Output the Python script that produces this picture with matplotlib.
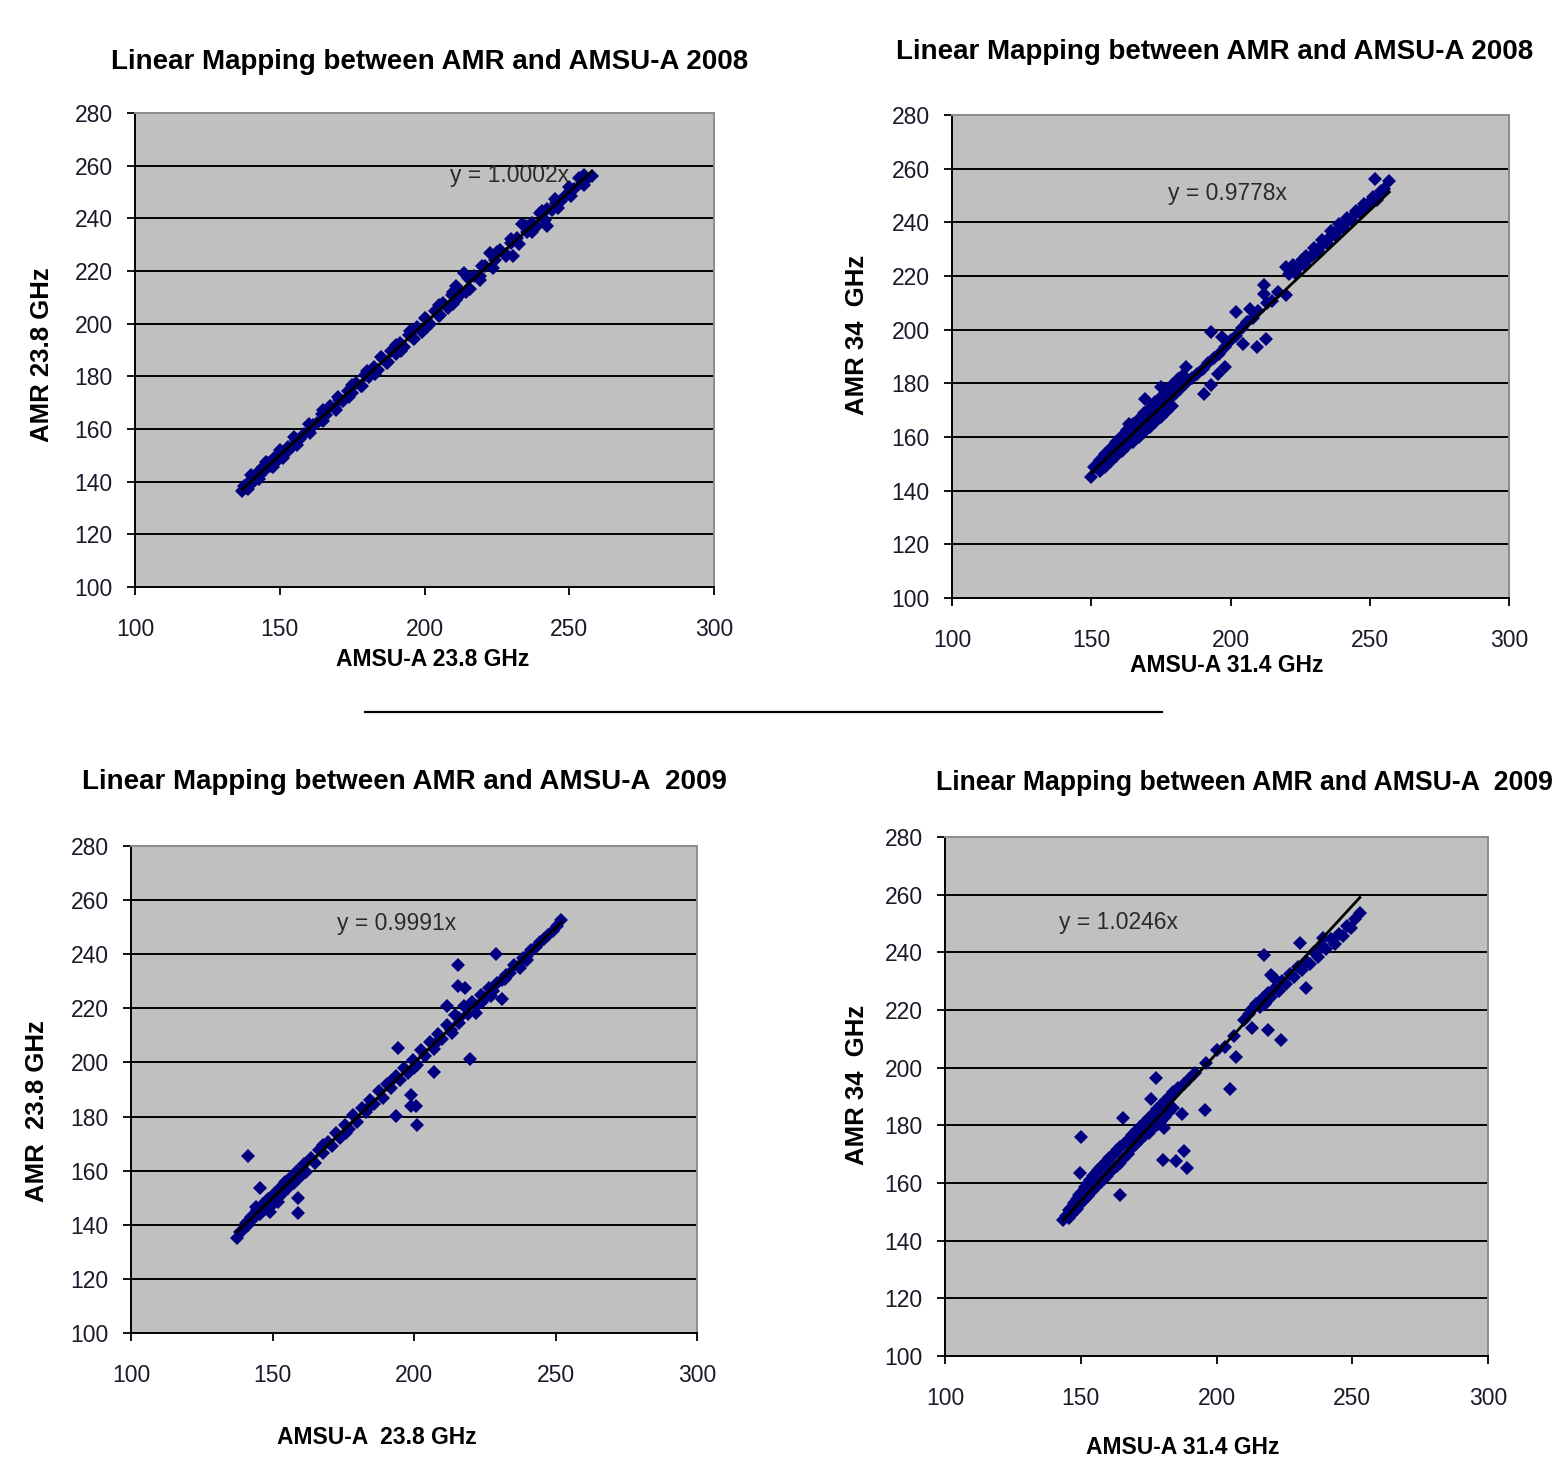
import matplotlib
matplotlib.use('Agg')
import matplotlib.pyplot as plt
from matplotlib import font_manager as fm
from matplotlib.lines import Line2D


def pick(fams):
    for f in fams:
        try:
            fm.findfont(fm.FontProperties(family=f), fallback_to_default=False)
            return f
        except Exception:
            pass
    return 'DejaVu Sans'


FONT = pick(['Liberation Sans Narrow', 'Liberation Sans', 'Arial'])
plt.rcParams['font.family'] = [FONT, 'DejaVu Sans']

# ---------------- data ----------------
x_ticks = [100, 150, 200, 250, 300]
y_ticks = [100, 120, 140, 160, 180, 200, 220, 240, 260, 280]

titles = ["Linear Mapping between AMR and AMSU-A 2008",
          "Linear Mapping between AMR and AMSU-A 2008",
          "Linear Mapping between AMR and AMSU-A  2009",
          "Linear Mapping between AMR and AMSU-A  2009"]
x_labels = ["AMSU-A 23.8 GHz", "AMSU-A 31.4 GHz", "AMSU-A  23.8 GHz", "AMSU-A 31.4 GHz"]
y_labels = ["AMR 23.8 GHz", "AMR 34  GHz", "AMR  23.8 GHz", "AMR 34  GHz"]
slopes = [1.0002, 0.9778, 0.9991, 1.0246]
equations = ["y = 1.0002x", "y = 0.9778x", "y = 0.9991x", "y = 1.0246x"]

p1_points = [(137.0,136.5),(137.5,138.3),(138.4,137.6),(139.3,139.8),(140.0,139.2),(140.8,141.6),
             (141.6,140.6),(142.5,143.5),(143.3,142.4),(144.2,145.6),(145.0,144.3),(146.0,147.2),
             (147.0,146.0),(148.0,149.1),(149.2,148.0),(150.4,151.0),(151.5,150.3),(152.8,153.2),
             (154.0,152.6),(155.5,155.8),(157.0,156.2),(158.5,158.0),(160.0,159.4),(161.5,161.6),
             (163.0,162.4),(164.5,165.6),(166.0,165.2),(167.5,168.6),(169.0,167.8),(170.5,171.2),
             (172.0,170.5),(173.5,174.6),(175.0,173.7),(176.5,177.6),(178.0,176.4),(179.5,180.5),
             (181.0,179.6),(182.5,183.4),(184.0,182.4),(185.5,186.4),(187.0,185.0),(188.5,189.6),
             (190.0,188.3),(191.5,192.6),(193.0,191.3),(194.5,195.8),(196.0,194.5),(197.5,198.8),
             (199.0,197.0),(200.5,201.6),(202.0,199.8),(203.5,204.8),(205.0,203.0),(206.5,208.0),
             (208.0,206.0),(209.5,211.0),(211.0,209.0),(211.0,214.2),(213.6,219.3),(213.0,211.5),
             (215.6,213.0),(217.0,218.2),(219.0,218.0),(221.0,221.8),(222.7,227.0),(224.5,224.0),
             (226.0,227.8),(228.0,226.5),(230.5,225.6),(230.0,230.8),(232.0,232.6),(233.8,237.7),
             (235.5,234.8),(237.0,238.2),(239.0,237.0),(240.5,242.8),(242.2,243.5),(242.2,237.1),
             (244.0,243.0),(245.5,245.8),(247.0,246.4),(248.5,248.6),(250.0,249.2),(251.5,251.0),
             (253.2,255.5),(254.5,253.5),(256.0,255.0),(257.8,256.2),
             (139.0,137.2),(143.0,141.2),(147.5,145.6),(151.0,149.0),(156.0,154.0),(160.5,158.4),
             (165.0,163.0),(169.5,167.4),(174.0,172.0),(178.5,176.4),(183.0,181.0),(187.5,185.4),
             (192.0,189.8),(196.5,194.2),(201.0,198.8),(205.5,203.2),(210.0,207.6),(214.5,212.2),
             (219.0,216.4),(223.5,221.2),(228.0,225.6),(232.5,230.2),(237.0,234.8),(241.5,239.4),
             (246.0,243.8),(250.5,248.4),(255.0,252.8),
             (140.2,142.4),(145.2,147.4),(150.0,152.2),(155.0,157.0),(160.0,161.8),(165.0,167.2),
             (170.0,172.0),(175.0,176.8),(180.0,182.2),(185.0,187.2),(190.0,192.0),(195.0,197.2),
             (200.0,202.2),(205.0,207.0),(210.0,212.2),(215.0,217.4),(220.0,222.0),(225.0,227.2),
             (230.0,232.2),(235.0,237.2),(240.0,242.0),(245.0,247.2),(250.0,252.0),(255.0,256.4)]

p2_points = [(151,149),(153,151.5),(155,153.5),(157,155.8),(159,158),(161,160.5),(163,162.5),
             (165,164.8),(167,166.8),(169,168.8),(171,170.8),(173,173.2),(175,175),(177,177.4),
             (179,179.2),(181,181.5),(183,183),
             (150,145),(152,148.6),(154,150.6),(156,152.5),(158,154.5),(160,156.5),(162,158.5),
             (164,160.4),(166,162.2),(168,164.3),(170,166.2),(172,168.2),(174,170.2),(176,172),
             (178,174.2),(180,176),(182,178),(184,180),(186,182),
             (153,147.4),(155,149),(157,151),(159,152.8),(161,154.6),(163,156.5),(165,158.2),
             (167,160),(169,162),(171,163.8),(173,165.6),(175,167.5),(177,169.5),(179,171.5),
             (169.2,174.3),(175,178.6),(163.5,165),(184,186.1),(188,183.5),(190.4,176.1),(190,185.5),
             (192,187.5),(193,179.3),(193,199.1),(194,189.5),(195.5,183.6),(196,191),(197,197.3),
             (198,186.1),(198,193.5),(200,196),(202,206.6),(202,197.5),(204.5,194.8),(204,200.5),
             (206,203),(207,207.8),(208,204.5),(209.6,193.5),(210,207),(212.2,216.5),(212.2,213.4),
             (212.8,196.6),(213,210),(215,210.5),(217,214),(219.9,223.4),(219.9,212.8),
             (221,220.8),(222.5,224),(224,222.5),(225.5,226),(227,227.5),(228.5,227),(230,230.6),
             (231.5,229.5),(233,233.4),(234.5,232.2),(236,236.6),(237.5,235.4),(239,239.2),
             (240.5,238),(242,241.6),(243.5,240.6),(245,244.2),(246.5,243.6),(248,247),
             (249.5,246),(251,249.4),(252.5,248.5),(251.9,256.3),(254,251.6),(255,252.6),(257,255.4),
             (223,221.2),(226.5,224.6),(229.5,228.0),(232.5,231.0),(235.5,234.0),(238.5,237.0),
             (241.5,239.8),(244.5,242.6),(247.5,245.4),(250.5,247.8)]

p3_points = [(137.5,135),(138.5,137.5),(139.5,138),(140.5,140.5),(141.5,140),(142.5,143),(143.5,142.5),
             (144.5,145.3),(145.5,144),(146.5,147.5),(147.5,146),(148.5,149.5),(149.5,147),(150.5,151.5),
             (151.5,149.5),(152.5,153.5),(153.5,151.5),(154.5,155.8),(155.5,153.5),(156.5,157.5),
             (157.5,155.5),(158.5,160),(159.5,157.5),(161,162.5),(162,159.5),(163.5,164.5),(165,163),
             (166.5,167.5),(168,166.5),(169.5,170.5),(171,169),(172.5,174),(174,172),(175.5,177),
             (177,175.5),(178.5,180.5),(180,178),(181.5,183),(183,181.5),(184.5,186),(186,184.5),
             (187.5,189.5),(189,187),(190.5,192),(192,190.5),(193.5,195),(195,193.5),(196.5,198),
             (198,196),(199.5,201),(201,199),(202.5,204.5),(204,202.5),(205.5,207.5),(207,205),
             (208.5,210.5),(210,208.5),(211.5,214),(213,212),(214.5,217.5),(216,214.5),(217.5,221),
             (219,218),(220.5,222.5),(222,221),(223.5,225),(225,224),(226.5,227.5),(228,226.5),
             (229.5,229.5),(231,230.5),(232.5,232.5),(234,233),(235.5,236),(237,235.5),(238.5,238.5),
             (240,239.5),(241.5,241.5),(243,242.5),(244.5,244.5),(246,245.5),(247.5,247.2),(249,248.5),
             (250.5,250.5),(252,252.5),
             (141.3,165.6),(145.5,153.6),(159,149.9),(159,144.3),(149.1,144.7),(215.6,235.9),
             (228.8,240),(215.6,228.3),(218.1,227.7),(194.3,205.4),(219.7,201.4),(207.2,196.4),
             (198.8,187.8),(200.8,183.8),(193.7,180.1),(201,177),(198.8,183.8),(222,218.4),
             (231,223.3),(227.1,224.6),(213.6,211),(211.7,220.9),(240,238),(237.4,235),
             (144,146.5),(152,148.5),(160,158),(168,169.5),(176,174),(184,183.5),(192,193),
             (200,198),(208,207.5),(216,216.5),(224,222.5),(232,231)]

p4_points = [(143.6,147),(144.5,148.5),(145.5,150.5),(145.5,148),(146.5,151.5),(146.5,149),(147.5,153),
             (147.5,150),(148.5,154.5),(148.5,151),(149.5,156),(149.5,152.2),(150.5,157),(150.5,153.5),
             (151.5,158.5),(151.5,154.5),(152.5,160),(152.5,155.5),(153.5,161),(153.5,156.5),
             (154.5,162.5),(154.5,157.5),(155.5,163.5),(155.5,158.5),(156.5,164.5),(156.5,159.5),
             (157.5,165.5),(157.5,160.5),(158.5,166.5),(158.5,161.5),(159.5,167.5),(159.5,162.5),
             (160.5,168.5),(160.5,163.5),(161.5,169.5),(161.5,164.5),(162.5,170.5),(162.5,165.5),
             (163.5,171.5),(163.5,166),(164.5,172.5),(164.5,167),(166,173.5),(166,168.5),(167.5,175),
             (167.5,170),(169,176.5),(169,172),(170.5,178),(170.5,173.5),(172,179.5),(172,175),
             (173.5,181),(173.5,176.5),(175,182.5),(175,177.5),(176.5,184),(176.5,179),(178,185.5),
             (178,180),(179.5,187),(179.5,181.5),(181,188.5),(181,183),(182.5,190),(182.5,184.5),
             (184,191.5),(184,186),(186,193),(188,194.5),(190,196),
             (192,198),(196,201.5),(200.1,206),(203,207),(206.6,211),(210,216.5),(212,218.5),
             (213,220.5),(214.5,222),(216,221),(217,224),(218,222),(219,226),(220,224.5),(221.5,227.5),
             (223,226.5),(224,230),(225.5,229),(227,232.5),(228.5,231.5),(230,235),(231.5,234),
             (233,237),(234.5,236),(236,240),(237.5,238.5),(239,242),(240.5,241),(242,244.5),
             (243.5,243),(245,246.5),(246.5,245.5),(248,249),(249.5,248.5),(251,251.5),(252.8,253.8),
             (150,175.9),(149.7,163.6),(164.4,155.8),(217.5,239.2),(230.9,243.3),(220,232.2),
             (221.3,231),(223.9,209.5),(218.8,213),(213,213.6),(207.2,203.6),(205,192.6),
             (195.6,185.2),(187.3,183.8),(177.6,196.3),(165.7,182.6),(180.2,168),(184.9,167.5),
             (188.1,171.2),(189,165.1),(232.9,227.6),(239.3,245.1),(180.8,179.1),(175.7,189.1)]

all_points = [p1_points, p2_points, p3_points, p4_points]

# ---------------- layout (pixels) ----------------
W, H = 1557, 1458
fig = plt.figure(figsize=(W / 100, H / 100), dpi=100)


def frac_rect(l, t, r, b):
    return [l / W, 1 - b / H, (r - l) / W, (b - t) / H]


axes_px = [(135, 113, 714, 587), (952, 115, 1509, 598), (131, 846, 697, 1333), (945, 837, 1488, 1356)]
title_pos = [(430, 62, 'center', 20), (1215, 52, 'center', 20), (404, 782, 'center', 20),
             (936, 783, 'left', 19.2)]
xlabel_pos = [(433, 660), (1227, 665), (377, 1437), (1183, 1447)]
ylabel_pos = [(42, 355), (857, 335), (37, 1111), (857, 1085)]
eq_pos = [(208.8, 256.4), (177.6, 250.6), (172.8, 251.5), (142.0, 250.5)]

NAVY = '#000080'

for i in range(4):
    ax = fig.add_axes(frac_rect(*axes_px[i]))
    ax.set_facecolor('#c0c0c0')
    ax.set_xlim(100, 300)
    ax.set_ylim(100, 280)
    ax.set_xticks(x_ticks)
    ax.set_yticks(y_ticks)
    for v in y_ticks[1:-1]:
        ax.axhline(v, color='black', lw=1.4, zorder=1)
    for s in ['left', 'bottom']:
        ax.spines[s].set_color('black')
        ax.spines[s].set_linewidth(1.4)
    for s in ['top', 'right']:
        ax.spines[s].set_color('#8c8c8c')
        ax.spines[s].set_linewidth(1.4)
    ax.tick_params(axis='both', direction='out', length=6, width=1.3, color='black',
                   labelsize=16.5, labelcolor='#1a1a2a')
    ax.tick_params(axis='x', pad=16)
    ax.tick_params(axis='y', pad=10)

    pts = all_points[i]
    xs = [p[0] for p in pts]
    ys = [p[1] for p in pts]
    ax.plot(xs, ys, 'D', color=NAVY, ms=7.5, mew=0, zorder=3, clip_on=False)
    x0, x1 = min(xs), max(xs)
    ax.plot([x0, x1], [slopes[i] * x0, slopes[i] * x1], color='black', lw=2.0, zorder=4)
    ax.text(eq_pos[i][0], eq_pos[i][1], equations[i], fontsize=16.5, color='#2a2a2a',
            ha='left', va='center', zorder=5)

    tx, ty, tha, tfs = title_pos[i]
    fig.text(tx / W, 1 - ty / H, titles[i], fontsize=tfs, fontweight='bold',
             ha=tha, va='center', color='black')
    fig.text(xlabel_pos[i][0] / W, 1 - xlabel_pos[i][1] / H, x_labels[i], fontsize=16.5,
             fontweight='bold', ha='center', va='center', color='black')
    fig.text(ylabel_pos[i][0] / W, 1 - ylabel_pos[i][1] / H, y_labels[i], fontsize=18.5,
             fontweight='bold', ha='center', va='center', rotation=90, color='black')

fig.add_artist(Line2D([365 / W, 1162 / W], [1 - 712 / H, 1 - 712 / H], color='black', lw=1.6))

fig.savefig('out.png', dpi=100)
